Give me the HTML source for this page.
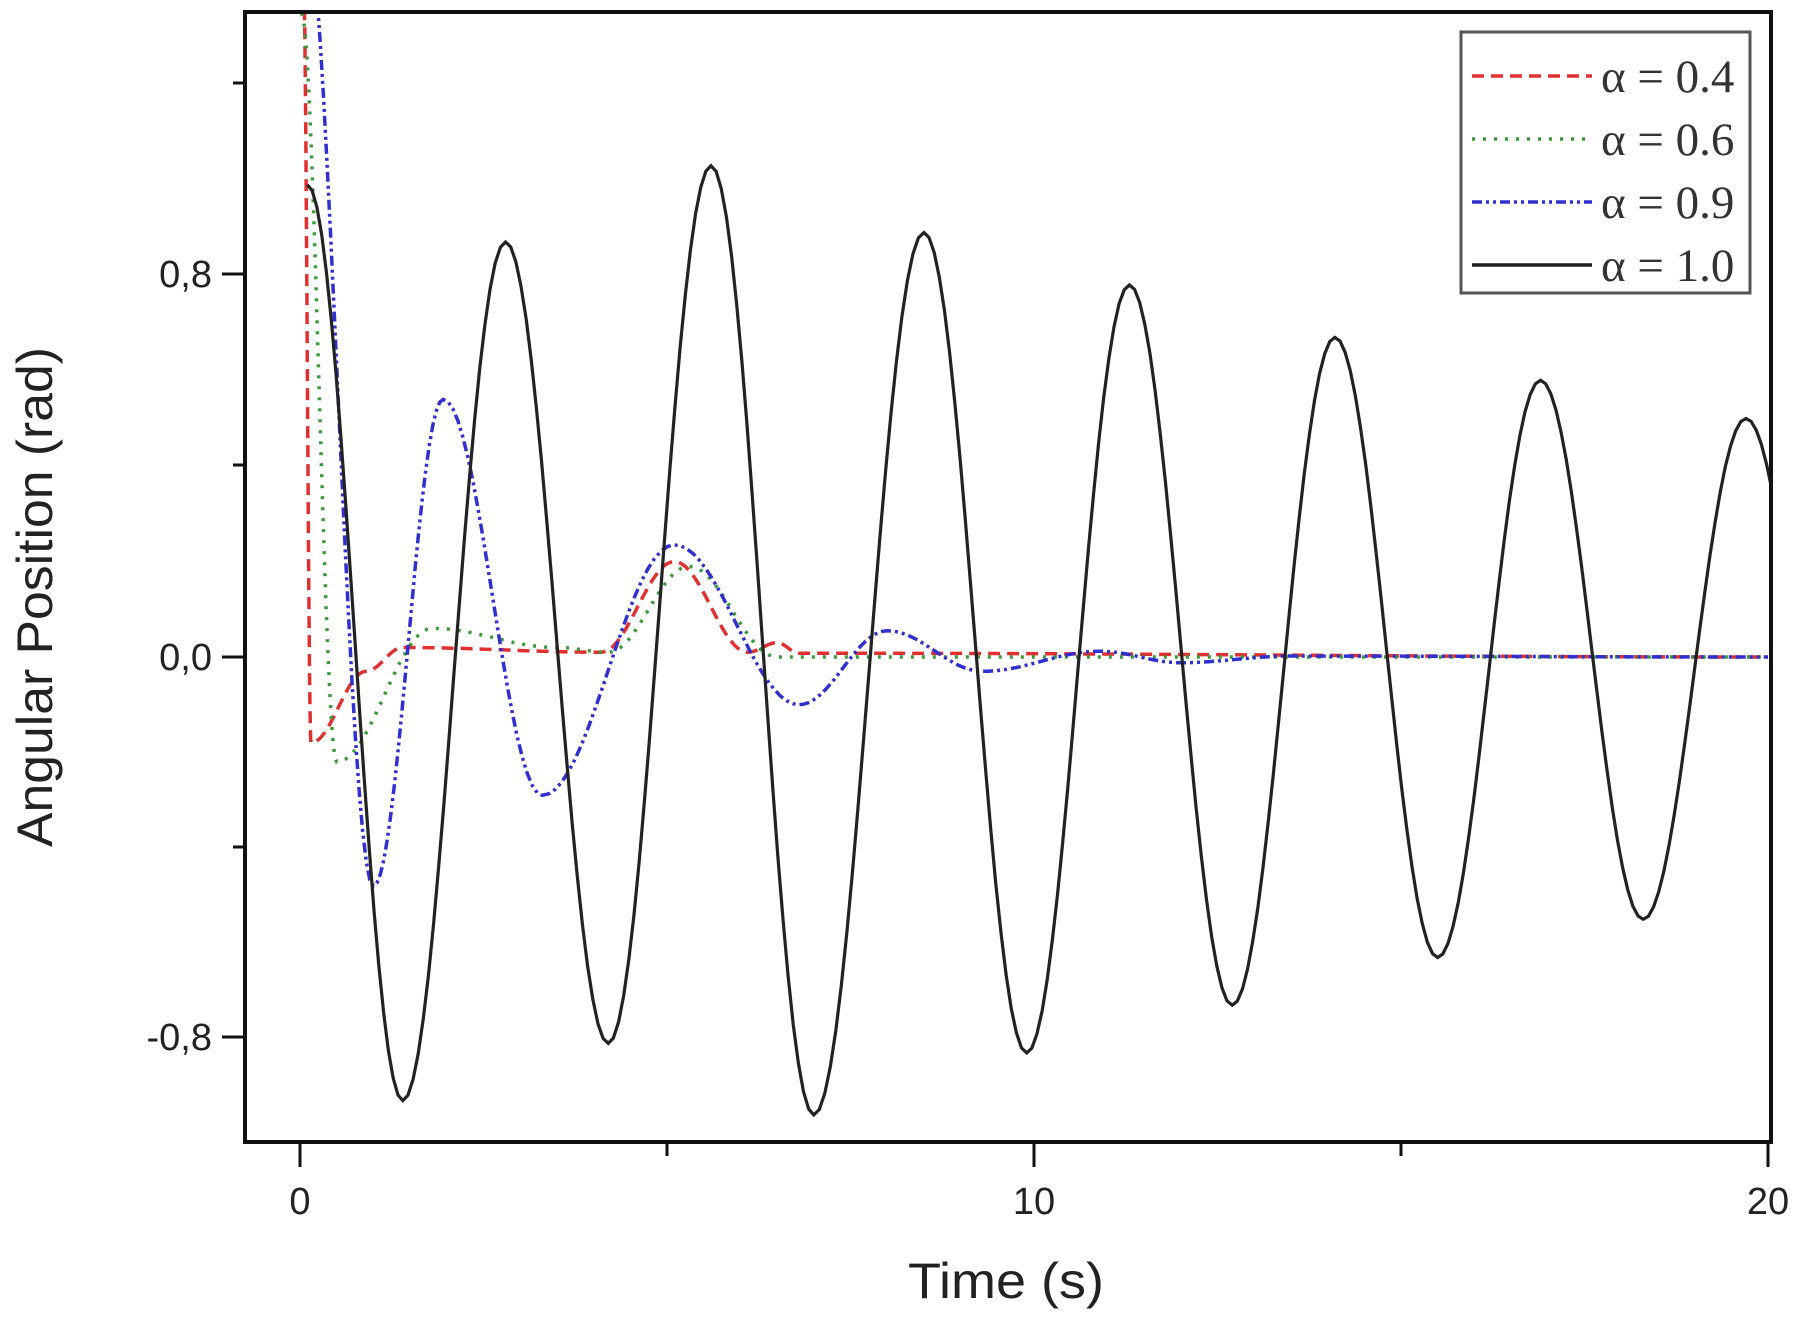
<!DOCTYPE html>
<html><head><meta charset="utf-8"><style>
html,body{margin:0;padding:0;background:#fff;}
svg{display:block;}
</style></head><body>
<svg id="s" width="1803" height="1326" viewBox="0 0 1803 1326" xmlns="http://www.w3.org/2000/svg">
<defs><clipPath id="c"><rect x="245" y="12" width="1526" height="1130"/></clipPath></defs>
<rect width="1803" height="1326" fill="#fff"/>
<g id="curves" clip-path="url(#c)" fill="none"></g>
<rect x="245" y="12" width="1526" height="1130" fill="none" stroke="#111" stroke-width="4"/>
<g stroke="#111" stroke-width="3">
<line x1="300" y1="1142" x2="300" y2="1167"/>
<line x1="667" y1="1142" x2="667" y2="1156"/>
<line x1="1034" y1="1142" x2="1034" y2="1167"/>
<line x1="1401" y1="1142" x2="1401" y2="1156"/>
<line x1="1768" y1="1142" x2="1768" y2="1167"/>
<line x1="222" y1="274" x2="245" y2="274"/>
<line x1="222" y1="657" x2="245" y2="657"/>
<line x1="222" y1="1037" x2="245" y2="1037"/>
<line x1="233" y1="83" x2="245" y2="83"/>
<line x1="233" y1="465" x2="245" y2="465"/>
<line x1="233" y1="847" x2="245" y2="847"/>
</g>
<g font-family="Liberation Sans, sans-serif" font-size="38" fill="#222">
<text x="212" y="287" text-anchor="end">0,8</text>
<text x="212" y="670" text-anchor="end">0,0</text>
<text x="212" y="1050" text-anchor="end">-0,8</text>
<text x="300" y="1214" text-anchor="middle">0</text>
<text x="1034" y="1214" text-anchor="middle">10</text>
<text x="1768" y="1214" text-anchor="middle">20</text>
<text x="1006" y="1298" text-anchor="middle" font-size="50" textLength="196" lengthAdjust="spacingAndGlyphs">Time (s)</text>
<text transform="translate(52,597) rotate(-90)" text-anchor="middle" font-size="50" textLength="500" lengthAdjust="spacingAndGlyphs">Angular Position (rad)</text>
</g>
<rect x="1461" y="32" width="289" height="261" fill="#fff" stroke="#555" stroke-width="3"/>
<g stroke-width="3.5">
<line x1="1472" y1="76" x2="1592" y2="76" stroke="#e03030" stroke-dasharray="12,7"/>
<line x1="1472" y1="139" x2="1592" y2="139" stroke="#3a9a3a" stroke-dasharray="3,8"/>
<line x1="1472" y1="202" x2="1592" y2="202" stroke="#3030d0" stroke-dasharray="10,4,3,4,3,4"/>
<line x1="1472" y1="265" x2="1592" y2="265" stroke="#222"/>
</g>
<g font-family="Liberation Serif, serif" font-size="47" fill="#333">
<text x="1601" y="92">α = 0.4</text>
<text x="1601" y="155">α = 0.6</text>
<text x="1601" y="218">α = 0.9</text>
<text x="1601" y="281">α = 1.0</text>
</g>
</svg>
<script>
var X=function(t){return 300+t*73.4},Y=function(v){return 657-v*477};
function path(pts){
 var d="M"+X(pts[0][0]).toFixed(1)+","+Y(pts[0][1]).toFixed(1);
 for(var i=0;i<pts.length-1;i++){
  var a=pts[i],b=pts[i+1];
  for(var k=1;k<=20;k++){var f=k/20,m=(1-Math.cos(Math.PI*f))/2;
   d+=" L"+X(a[0]+(b[0]-a[0])*f).toFixed(1)+","+Y(a[1]+(b[1]-a[1])*m).toFixed(1);}
 }return d;}
var S=[
 {c:"#e03030",w:3.5,da:"12,7",p:[[0.05,1.4],[0.15,-0.18],[0.9,-0.03],[1.4,0.02],[4.1,0.01],[5.1,0.2],[6.1,0.01],[6.5,0.03],[6.8,0.008],[20,0]]},
 {c:"#3a9a3a",w:3.5,da:"3,8",p:[[0.02,1.35],[0.5,-0.22],[1.8,0.06],[3.5,0.02],[4.2,0.01],[5.3,0.19],[6.5,0.0],[20,0]]},
 {c:"#3030d0",w:3.5,da:"10,4,3,4,3,4",p:[[0.03,1.6],[1.0,-0.48],[1.95,0.54],[3.3,-0.29],[5.1,0.235],[6.8,-0.10],[8.0,0.055],[9.3,-0.03],[10.9,0.012],[12.0,-0.012],[13.5,0.002],[20,0]]},
 {c:"#222",w:3.2,da:"",p:[[0.1,0.99],[1.4,-0.93],[2.8,0.87],[4.2,-0.81],[5.6,1.03],[7.0,-0.96],[8.5,0.89],[9.9,-0.83],[11.3,0.78],[12.7,-0.73],[14.1,0.67],[15.5,-0.63],[16.9,0.58],[18.3,-0.55],[19.7,0.5],[21.1,-0.5]]}
];
var g=document.getElementById("curves");
S.forEach(function(s){var e=document.createElementNS("http://www.w3.org/2000/svg","path");
 e.setAttribute("d",path(s.p));e.setAttribute("stroke",s.c);e.setAttribute("stroke-width",s.w);
 if(s.da)e.setAttribute("stroke-dasharray",s.da);g.appendChild(e);});
</script>
</body></html>
